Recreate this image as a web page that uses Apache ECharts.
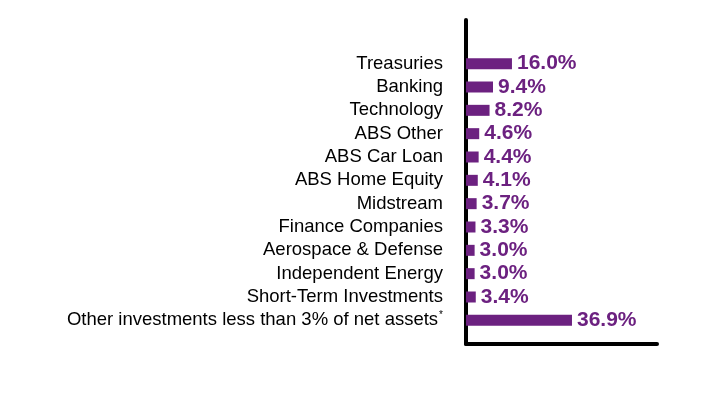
<!DOCTYPE html>
<html>
<head>
<meta charset="utf-8">
<script src="https://cdn.jsdelivr.net/npm/echarts@6/dist/echarts.min.js"></script>
<style>html,body{margin:0;padding:0;background:#fff;}#c{width:708px;height:408px;}</style>
</head>
<body>
<div id="c"></div>
<script>
const categories = ["Treasuries","Banking","Technology","ABS Other","ABS Car Loan","ABS Home Equity","Midstream","Finance Companies","Aerospace & Defense","Independent Energy","Short-Term Investments","Other investments less than 3% of net assets*"];
const values = [16.0, 9.4, 8.2, 4.6, 4.4, 4.1, 3.7, 3.3, 3.0, 3.0, 3.4, 36.9];

const purple = '#6c2180';
const chart = echarts.init(document.getElementById('c'), null, {renderer:'canvas'});
chart.setOption({
  animation: false,
  grid: [
    {left: 466, right: 51, top: 52, bottom: 76, containLabel: false},
    {left: 466, right: 51, top: 20, bottom: 64, containLabel: false}
  ],
  xAxis: [
    {type: 'value', gridIndex: 0, min: 0, max: 66.5, show: false},
    {type: 'value', gridIndex: 1, min: 0, max: 1, axisLine: {show: true, lineStyle: {color: '#000', width: 4}}, axisTick: {show: false}, axisLabel: {show: false}, splitLine: {show: false}}
  ],
  yAxis: [
    {type: 'category', gridIndex: 0, data: categories, inverse: true,
     axisLine: {show: false}, axisTick: {show: false}, splitLine: {show: false},
     axisLabel: {interval: 0, hideOverlap: false, margin: 23, color: '#000', fontSize: 18.5, fontFamily: 'Liberation Sans, Arial, sans-serif',
       formatter: function (v) { return v.endsWith('*') ? v.slice(0, -1) + '{sup|*}' : v; },
       rich: {sup: {fontSize: 10, verticalAlign: 'top', padding: [0, 0, 10, 1], color: '#000', fontFamily: 'Liberation Sans, Arial, sans-serif'}}
     }},
    {type: 'value', gridIndex: 1, min: 0, max: 1, axisLine: {show: true, onZero: false, lineStyle: {color: '#000', width: 4}}, axisTick: {show: false}, axisLabel: {show: false}, splitLine: {show: false}}
  ],
  series: [{
    type: 'bar', xAxisIndex: 0, yAxisIndex: 0, data: values, barWidth: 11,
    itemStyle: {color: purple},
    label: {show: true, position: 'right', distance: 5, color: purple, fontSize: 21, fontWeight: 'bold',
      fontFamily: 'Liberation Sans, Arial, sans-serif',
      formatter: function (p) { return p.value.toFixed(1) + '%'; }}
  }]
});
</script>
</body>
</html>
